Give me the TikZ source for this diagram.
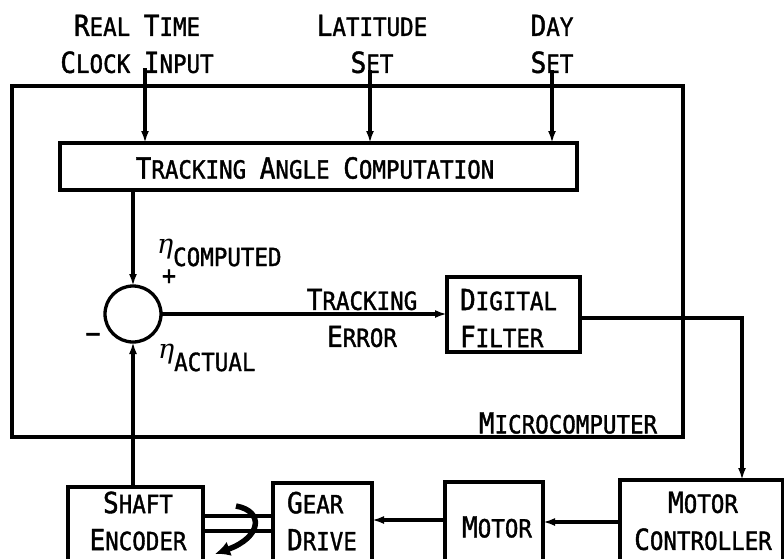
\documentclass[tikz,border=0pt]{standalone}
\usepackage{fontspec}
\setmainfont{DejaVu Sans Mono}[FakeStretch=0.9, FakeBold=1.4]
\newfontfamily\grk{DejaVu Serif}
\usetikzlibrary{arrows.meta}
\newcommand\Ini[1]{{\fontsize{29}{37}\selectfont #1}}
\newcommand\Eta{{\grk\itshape\fontsize{27}{30}\selectfont η}}
\begin{document}
\begin{tikzpicture}[x=1pt,y=-1pt, line width=3.3pt,
  every node/.style={font=\fontsize{25}{37}\selectfont, inner sep=0pt, outer sep=0pt},
  blk/.style={draw, rectangle},
  arr/.style={-{Latex[length=12pt,width=8pt]}},
  rot/.style={line width=5.5pt, -{Latex[length=15pt,width=15pt]}}]
\useasboundingbox (0,0) rectangle (784,558);

% boxes
\node[blk, minimum width=671pt, minimum height=351pt] (outer) at (347.5,261.5) {};
\node[blk, minimum width=517pt, minimum height=47pt] (tac) at (318.5,166.5) {};
\node[blk, minimum width=133pt, minimum height=75pt] (filt) at (513.5,314.5) {};
\node[blk, minimum width=163pt, minimum height=140pt] (mc) at (701.5,550) {};
\node[blk, minimum width=98pt, minimum height=138pt] (mot) at (494,551) {};
\node[blk, minimum width=99pt, minimum height=137pt] (gear) at (322.5,551.5) {};
\node[blk, minimum width=135pt, minimum height=133pt] (enc) at (135.5,553.5) {};
\node[draw, circle, minimum size=56pt] (sum) at (133,314) {};

% texts
\node[align=center] (t1) at (137,44) {\Ini{R}EAL \Ini{T}IME\\\Ini{C}LOCK \Ini{I}NPUT};
\node[align=center] (t2) at (372,44) {\Ini{L}ATITUDE\\\Ini{S}ET};
\node[align=center] (t3) at (552,44) {\Ini{D}AY\\\Ini{S}ET};
\node (ttac) at (315,168) {\Ini{T}RACKING \Ini{A}NGLE \Ini{C}OMPUTATION};
\node[anchor=base west] (etac) at (157,266) {\raisebox{13pt}{\Eta}COMPUTED};
\node[font=\fontsize{26}{28}\selectfont] (plus) at (169,277) {+};
\node[font=\fontsize{28}{28}\selectfont] (minus) at (93,338) {−};
\node[anchor=base west] (etaa) at (158,371) {\raisebox{13pt}{\Eta}ACTUAL};
\node[align=center] (terr) at (362,318) {\Ini{T}RACKING\\\Ini{E}RROR};
\node[align=left, anchor=west] (tfilt) at (460,318) {\Ini{D}IGITAL\\\Ini{F}ILTER};
\node (tmicro) at (568,423) {\Ini{M}ICROCOMPUTER};
\node[align=center] (tenc) at (138,521) {\Ini{S}HAFT\\\Ini{E}NCODER};
\node[align=left, anchor=west] (tgear) at (287,521) {\Ini{G}EAR\\\Ini{D}RIVE};
\node (tmot) at (497,527) {\Ini{M}OTOR};
\node[align=center] (tmc) at (703,521) {\Ini{M}OTOR\\\Ini{C}ONTROLLER};

% inputs
\coordinate (in1) at (145,68);
\coordinate (in2) at (370,70);
\coordinate (in3) at (552,70);
\draw[arr] (in1) -- (in1 |- tac.north);
\draw[arr] (in2) -- (in2 |- tac.north);
\draw[arr] (in3) -- (in3 |- tac.north);

% loop
\draw[arr] (tac.south -| sum) -- (sum.north);
\draw[arr] (sum.east) -- (filt.west |- sum.east);
\coordinate (k) at (742,318);
\draw[arr] (filt.east |- k) -- (k) -- (k |- mc.north);
\draw[arr] (mc.west |- 0,522) -- (mot.east |- 0,522);
\draw[arr] (mot.west |- 0,520) -- (gear.east |- 0,520);
\draw (enc.east |- 0,516) -- (gear.west |- 0,516);
\draw (enc.east |- 0,531) -- (gear.west |- 0,531);
\draw[arr] (enc.north -| sum) -- (sum.south);

% rotation arrow
\coordinate (r0) at (236,506);
\coordinate (r1) at (215,554);
\draw[rot] (r0) .. controls (264,511) and (262,537) .. (r1);
\end{tikzpicture}
\end{document}
